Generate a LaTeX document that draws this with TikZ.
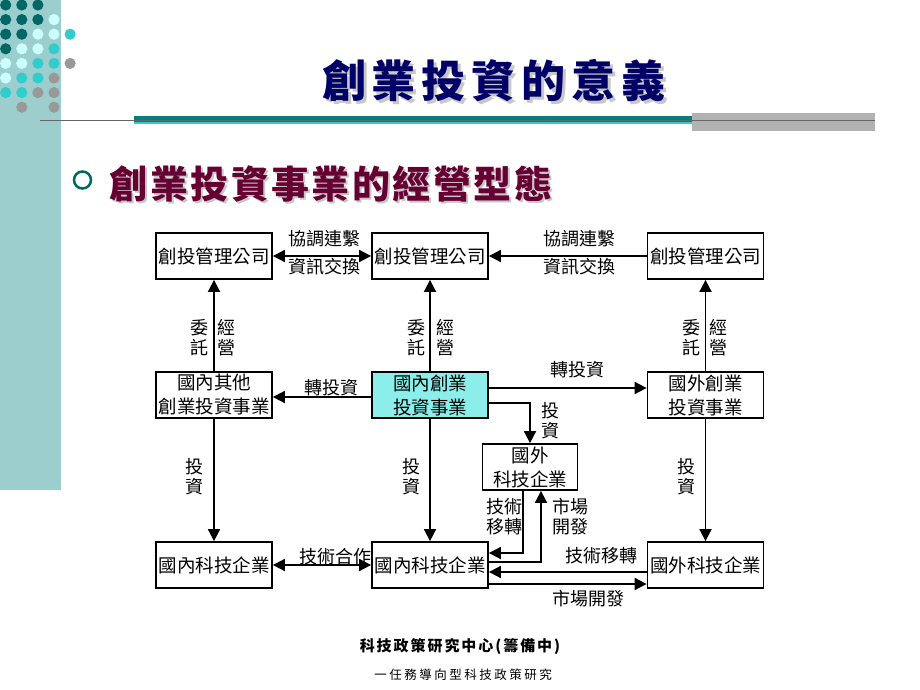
\documentclass[tikz,border=0pt]{standalone}
\usepackage{fontspec}
\newfontfamily\cjk{Noto Sans CJK TC}
\usetikzlibrary{arrows.meta}

\definecolor{stripbg}{RGB}{156,206,206}
\definecolor{darkteal}{RGB}{0,102,102}
\definecolor{paleteal}{RGB}{204,255,255}
\definecolor{midteal}{RGB}{51,204,204}
\definecolor{dotgrey}{RGB}{153,153,153}
\definecolor{titlenavy}{RGB}{0,0,102}
\definecolor{subred}{RGB}{102,0,51}
\definecolor{mainfill}{RGB}{140,238,234}
\definecolor{barteal}{RGB}{0,128,128}
\definecolor{bargrey}{RGB}{178,178,178}

\tikzset{
  unit/.style={draw, line width=1.8pt, minimum width=116, minimum height=46,
    inner sep=0pt, align=center, font=\cjk\fontsize{18.5}{24}\selectfont},
  lbl/.style={inner sep=0pt, align=center, font=\cjk\fontsize{18}{20}\selectfont},
  link/.style={line width=1.8pt, -{Triangle[length=12pt,width=12pt]}},
  twoway/.style={line width=1.8pt, {Triangle[length=12pt,width=12pt]}-{Triangle[length=12pt,width=12pt]}},
}

\begin{document}
\begin{tikzpicture}[x=1pt,y=-1pt]

            \useasboundingbox (0,0) rectangle (920,690);

            % Side strip and dots
            \fill[stripbg] (0,0) rectangle (61,490);
            \foreach \col/\row/\c in {0/0/darkteal,1/0/darkteal,2/0/darkteal,
                0/1/darkteal,1/1/darkteal,2/1/darkteal,3/1/paleteal,
                0/2/darkteal,1/2/darkteal,2/2/paleteal,3/2/paleteal,4/2/midteal,
                0/3/darkteal,1/3/paleteal,2/3/paleteal,3/3/midteal,
                0/4/paleteal,1/4/paleteal,2/4/midteal,3/4/midteal,4/4/dotgrey,
                0/5/paleteal,1/5/midteal,2/5/midteal,3/5/dotgrey,
                0/6/midteal,1/6/midteal,2/6/dotgrey,3/6/dotgrey,
                1/7/dotgrey,3/7/dotgrey}
              \fill[\c] (5.7+16.1*\col,5+14.6*\row) circle (5.6);

            % Header rule
            \fill[barteal] (134,116.5) rectangle (692,124.5);
            \fill[midteal] (134,122.5) rectangle (692,124.5);
            \fill[bargrey] (692,113) rectangle (875,131);
            \draw[black!60, line width=1.3pt] (40,120.5) -- (875,120.5);

            % Title
            \node[text=black!22, font=\cjk\bfseries\fontsize{44}{50}\selectfont\addfontfeature{LetterSpace=13.6}] (titleshadow) at (497,84) {創業投資的意義};
            \node[text=titlenavy, font=\cjk\bfseries\fontsize{44}{50}\selectfont\addfontfeature{LetterSpace=13.6}] (title) at (494,81) {創業投資的意義};

            % Subtitle
            \draw[darkteal, line width=2.5pt] (82.5,180) circle (8.5);
            \node[text=black!22, font=\cjk\bfseries\fontsize{38}{44}\selectfont\addfontfeature{LetterSpace=6.5}] (subshadow) at (333,186) {創業投資事業的經營型態};
            \node[text=subred, font=\cjk\bfseries\fontsize{38}{44}\selectfont\addfontfeature{LetterSpace=6.5}] (subtitle) at (331,184) {創業投資事業的經營型態};

            % Boxes
            \node[unit] (mgrL) at (214,256) {創投管理公司};
            \node[unit] (mgrM) at (430,256) {創投管理公司};
            \node[unit] (mgrR) at (705.5,256) {創投管理公司};
            \node[unit] (vcL) at (214,395) {國內其他\\創業投資事業};
            \node[unit, fill=mainfill] (vcM) at (430,395) {國內創業\\投資事業};
            \node[unit] (vcR) at (705.5,395) {國外創業\\投資事業};
            \node[unit, minimum width=95] (techX) at (530,467) {國外\\科技企業};
            \node[unit] (techL) at (214,565) {國內科技企業};
            \node[unit] (techM) at (430,565) {國內科技企業};
            \node[unit] (techR) at (705.5,565) {國外科技企業};

            % Links between management companies
            \draw[twoway] (mgrL) -- (mgrM);
            \draw[link] (mgrR) -- (mgrM);
            \node[lbl] (coordL) at (324,239) {協調連繫};
            \node[lbl] (infoL) at (324,267) {資訊交換};
            \node[lbl] (coordR) at (579,239) {協調連繫};
            \node[lbl] (infoR) at (579,267) {資訊交換};

            % Entrust management
            \draw[link] (vcL) -- (mgrL);
            \draw[link] (vcM) -- (mgrM);
            \draw[link] (vcR) -- (mgrR);
            \node[lbl] (entL) at (199,338) {委\\託};
            \node[lbl] (runL) at (226.5,338) {經\\營};
            \node[lbl] (entM) at (416,338) {委\\託};
            \node[lbl] (runM) at (445,338) {經\\營};
            \node[lbl] (entR) at (691,338) {委\\託};
            \node[lbl] (runR) at (718,338) {經\\營};

            % Reinvestment
            \draw[link] ([yshift=-2]vcM.west) -- ([yshift=-2]vcL.east);
            \draw[link] ([yshift=7]vcM.east) -- ([yshift=7]vcR.west);
            \draw[link] ([yshift=-8]vcM.east) -| (techX.north);
            \node[lbl] (reinvL) at (331,388) {轉投資};
            \node[lbl] (reinvR) at (577,370) {轉投資};
            \node[lbl] (investX) at (550,421) {投\\資};

            % Investment
            \draw[link] (vcL) -- (techL);
            \draw[link] (vcM) -- (techM);
            \draw[link] (vcR) -- (techR);
            \node[lbl] (investL) at (194,477) {投\\資};
            \node[lbl] (investM) at (411.5,477) {投\\資};
            \node[lbl] (investR) at (686.5,477) {投\\資};

            % Technology firms
            \draw[twoway] (techL) -- (techM);
            \draw[link] ([xshift=-7]techX.south) |- ([yshift=12]techM.east);
            \draw[link] ([yshift=3]techM.east) -| ([xshift=11]techX.south);
            \draw[link] ([yshift=-7]techR.west) -- ([yshift=-7]techM.east);
            \draw[link] ([yshift=-19]techM.east) -- ([yshift=-19]techR.west);
            \node[lbl] (coopL) at (335,557) {技術合作};
            \node[lbl] (transX) at (504,517) {技術\\移轉};
            \node[lbl] (mktX) at (570,517) {市場\\開發};
            \node[lbl] (transR) at (601,556) {技術移轉};
            \node[lbl] (mktR) at (588,599) {市場開發};

            % Footer
            \node[font=\cjk\bfseries\fontsize{15}{18}\selectfont\addfontfeature{LetterSpace=13}] (footA) at (460,647) {科技政策研究中心(籌備中)};
            \node[font=\cjk\fontsize{12.5}{15}\selectfont\addfontfeature{LetterSpace=20}] (footB) at (463,675) {一任務導向型科技政策研究};

        \end{tikzpicture}
\end{document}
